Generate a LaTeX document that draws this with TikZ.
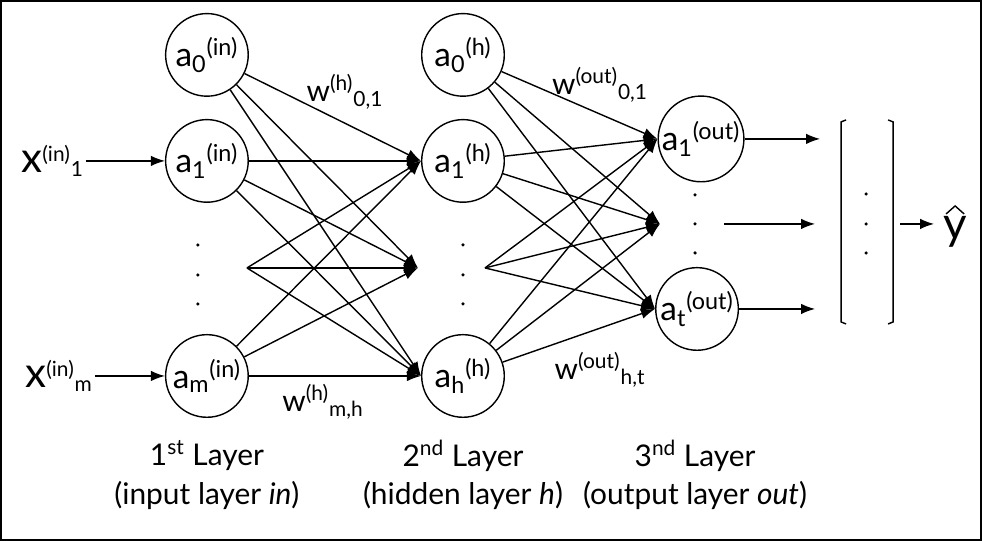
\documentclass[tikz,border=0pt]{standalone}
\usepackage{fontspec}
\setmainfont{Lato}
\usetikzlibrary{arrows.meta}
\usetikzlibrary{positioning}
\tikzset{
  neuron/.style={draw, circle, line width=0.8pt, minimum size=47pt, inner sep=0pt, font=\fontsize{19}{22}\selectfont},
  conn/.style={line width=0.8pt, -{Latex[length=8pt,width=6pt]}},
  lbl/.style={font=\fontsize{17}{20}\selectfont},
  dot/.style={fill, circle, inner sep=0pt, minimum size=2pt},
}
\begin{document}
\begin{tikzpicture}[x=0.02cm, y=-0.02cm]
                % Frame
                \draw[line width=1pt] (1,1) rectangle (981,540);
                
                % Input layer
                \node[neuron] (i0) at (207,55) {a\textsubscript{0}\textsuperscript{(in)}};
                \node[neuron] (i1) at (207,161) {a\textsubscript{1}\textsuperscript{(in)}};
                \node[neuron] (im) at (207,376) {a\textsubscript{m}\textsuperscript{(in)}};
                \foreach \y in {245,275,304} \node[dot] at (198,\y) {};
                \coordinate (iz) at (247,268);
                
                % Hidden layer
                \node[neuron] (h0) at (463,55) {a\textsubscript{0}\textsuperscript{(h)}};
                \node[neuron] (h1) at (463,161) {a\textsubscript{1}\textsuperscript{(h)}};
                \node[neuron] (hh) at (463,376) {a\textsubscript{h}\textsuperscript{(h)}};
                \foreach \y in {245,275,304} \node[dot] at (463,\y) {};
                \coordinate (hz) at (485,268);
                \coordinate (hm) at (418,268);
                
                % Output layer
                \node[neuron] (o1) at (701,139) {a\textsubscript{1}\textsuperscript{(out)}};
                \node[neuron] (ot) at (697,309) {a\textsubscript{t}\textsuperscript{(out)}};
                \foreach \y in {195,224,253} \node[dot] at (695,\y) {};
                \coordinate (om) at (660,224);
                
                % Weights
                \foreach \s in {i0,i1,im} {
                    \draw[conn] (\s) -- (h1.west);
                    \draw[conn] (\s) -- (hm);
                    \draw[conn] (\s) -- (hh.west);
                }
                \foreach \t in {h1.west,hm,hh.west} \draw[conn] (iz) -- (\t);
                \foreach \s in {h0,h1,hh} {
                    \draw[conn] (\s) -- (o1.west);
                    \draw[conn] (\s) -- (om);
                    \draw[conn] (\s) -- (ot.west);
                }
                \foreach \t in {o1.west,om,ot.west} \draw[conn] (hz) -- (\t);
                
                % Inputs
                \node[lbl, anchor=east, inner sep=1pt] (x1) at (86,161) {\fontsize{24}{26}\selectfont x\fontsize{17}{20}\selectfont\textsuperscript{(in)}\textsubscript{1}};
                \node[lbl, anchor=east, inner sep=1pt] (xm) at (95,376) {\fontsize{24}{26}\selectfont x\fontsize{17}{20}\selectfont\textsuperscript{(in)}\textsubscript{m}};
                \draw[conn] (x1.east) -- (i1);
                \draw[conn] (xm.east) -- (im);
                
                % Output vector
                \coordinate (b1) at (820,139);
                \coordinate (bz) at (815,224);
                \coordinate (bt) at (815,309);
                \draw[conn] (o1) -- (b1);
                \draw[conn] (724,224) -- (bz);
                \draw[conn] (ot) -- (bt);
                \draw[line width=0.8pt] (846,120) -- (841,122) -- (841,322) -- (846,324);
                \draw[line width=0.8pt] (888,120) -- (893,122) -- (893,322) -- (888,324);
                \foreach \y in {194,224,253} \node[dot] at (866,\y) {};
                \node[font=\fontsize{26}{28}\selectfont, inner sep=1pt] (yh) at (955,232) {y};
                \draw[line width=0.8pt] (946,214) -- (955,206) -- (964,214); % hat
                \coordinate (ya) at (934,224);
                \draw[conn] (900,224) -- (ya);
                
                % Weight labels
                \node[lbl] (w1) at (345,92) {w\textsuperscript{(h)}\textsubscript{0,1}};
                \node[lbl] (w2) at (323,402) {w\textsuperscript{(h)}\textsubscript{m,h}};
                \node[lbl] (w3) at (600,85) {w\textsuperscript{(out)}\textsubscript{0,1}};
                \node[lbl] (w4) at (600,370) {w\textsuperscript{(out)}\textsubscript{h,t}};
                
                % Layer names
                \node[lbl, align=center] (l1) at (207,475) {1\textsuperscript{st} Layer\\[2pt](input layer \textit{in})};
                \node[lbl, align=center] (l2) at (463,475) {2\textsuperscript{nd} Layer\\[2pt](hidden layer \textit{h})};
                \node[lbl, align=center] (l3) at (695,475) {3\textsuperscript{nd} Layer\\[2pt](output layer \textit{out})};
\end{tikzpicture}
\end{document}
